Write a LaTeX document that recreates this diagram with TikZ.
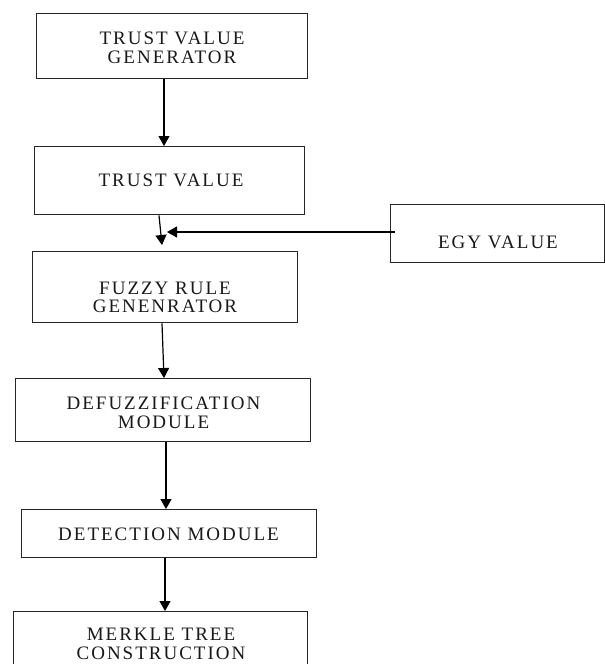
\documentclass[tikz,border=0pt]{standalone}
\usepackage{fontspec}
\setmainfont{Liberation Serif}[LetterSpace=10.5]
\usetikzlibrary{arrows.meta}
\tikzset{
  box/.style={draw=black!85, line width=1.4pt, inner sep=0pt, anchor=north west},
  txt/.style={font=\fontsize{19}{18.7}\selectfont, align=center, inner sep=0pt, text=black!90},
  conn/.style={line width=1.2pt, -{Triangle[length=10pt,width=11pt]}}
}
\begin{document}
\begin{tikzpicture}[x=1pt,y=-1pt]
\useasboundingbox (0,0) rectangle (605,664);
\clip (0,0) rectangle (605,664);
\fill[white] (0,0) rectangle (605,664);
% boxes
\node[box, minimum width=271pt, minimum height=65pt] (b1) at (36,13) {};
\node[box, minimum width=270pt, minimum height=68pt] (b2) at (34,146) {};
\node[box, minimum width=214pt, minimum height=58pt] (egy) at (390,204) {};
\node[box, minimum width=265pt, minimum height=71pt] (b3) at (32,251) {};
\node[box, minimum width=295pt, minimum height=63pt] (b4) at (15,378) {};
\node[box, minimum width=295pt, minimum height=48pt] (b5) at (21,509) {};
\node[box, minimum width=294pt, minimum height=80pt] (b6) at (13,611) {};
% texts
\node[txt] (t1) at (172,48) {TRUST VALUE\\GENERATOR};
\node[txt] (t2) at (171,180) {TRUST VALUE};
\node[txt] (tegy) at (498,242.5) {EGY VALUE};
\node[txt] (t3) at (165,297.5) {FUZZY RULE\\GENENRATOR};
\node[txt] (t4) at (163.5,412.5) {DEFUZZIFICATION\\MODULE};
\node[txt] (t5) at (168.5,534.5) {DETECTION MODULE};
\node[txt] (t6) at (161,644) {MERKLE TREE\\CONSTRUCTION};
% junction
\coordinate (j) at (162,245);
\coordinate (e) at (395,232);
% connectors
\draw[conn] (b1.south -| 164,0) -- (b2.north -| 164,0);
\draw[conn] (b2.south -| 159,0) -- (j);
\draw[conn] (e) -- (167,232);
\draw[conn] (b3.south -| 162,0) -- (b4.north -| 164,0);
\draw[conn] (b4.south -| 166,0) -- (b5.north -| 166,0);
\draw[conn] (b5.south -| 165,0) -- (b6.north -| 165,0);
\end{tikzpicture}
\end{document}
